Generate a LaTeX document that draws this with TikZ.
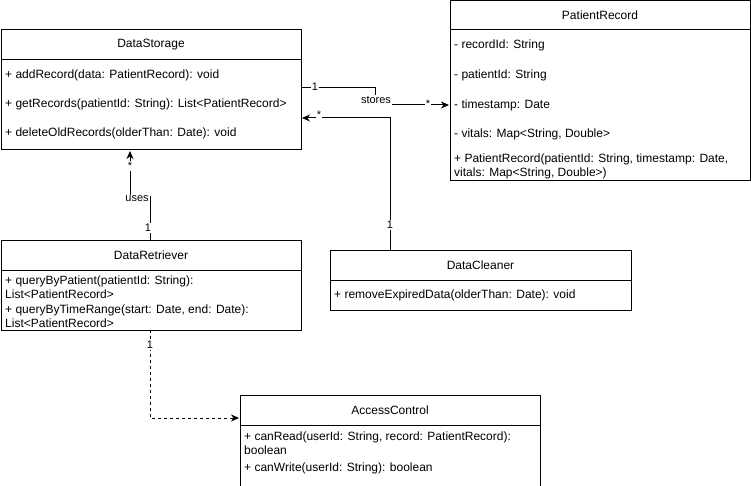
\documentclass[tikz,border=0pt]{standalone}
\usepackage{fontspec}
\setmainfont{Liberation Sans}
\usetikzlibrary{arrows.meta}
\begin{document}
\begin{tikzpicture}[x=1pt,y=-1pt,
  cls/.style={draw,line width=1pt,inner sep=0pt,outer sep=0pt,fill=white},
  sep/.style={line width=1pt},
  title/.style={inner sep=0pt,font=\fontsize{12}{14}\selectfont},
  member/.style={anchor=west,inner sep=0pt,align=left,font=\fontsize{12}{14}\selectfont},
  rel/.style={line width=1pt},
  tip/.style={-{Stealth[length=8pt,width=7pt,inset=2.5pt]}, shorten >=1pt},
  dep/.style={line width=1pt,dash pattern=on 3pt off 3pt},
  mult/.style={font=\fontsize{11}{13}\selectfont,fill=white,inner sep=1pt},
  lbl/.style={font=\fontsize{11}{13}\selectfont,fill=white,inner sep=1pt}]
\useasboundingbox (0,0) rectangle (751,486);
\clip (0,0) rectangle (751,486);

% ---- DataStorage ----
\node[cls,minimum width=300pt,minimum height=120pt] (ds) at (151,90) {};
\draw[sep] (1,60) -- (301,60);
\node[title] (dsT) at (151,45) {DataStorage};
\node[member] (ds1) at (5,75) {+ addRecord(data: PatientRecord): void};
\node[member] (ds2) at (5,104) {+ getRecords(patientId: String): List<PatientRecord>};
\node[member] (ds3) at (5,133) {+ deleteOldRecords(olderThan: Date): void};

% ---- PatientRecord ----
\node[cls,minimum width=300pt,minimum height=180pt] (pr) at (600,91) {};
\draw[sep] (450,30) -- (750,30);
\node[title] (prT) at (600,15) {PatientRecord};
\node[member] (pr1) at (454,45) {- recordId: String};
\node[member] (pr2) at (454,75) {- patientId: String};
\node[member] (pr3) at (454,105) {- timestamp: Date};
\node[member] (pr4) at (454,134) {- vitals: Map<String, Double>};
\node[member] (pr5) at (454,166.5) {+ PatientRecord(patientId: String, timestamp: Date,\\vitals: Map<String, Double>)};

% ---- DataRetriever ----
\node[cls,minimum width=300pt,minimum height=90pt] (dr) at (151,285) {};
\draw[sep] (1,270) -- (301,270);
\node[title] (drT) at (151,255) {DataRetriever};
\node[member] (dr1) at (5,287) {+ queryByPatient(patientId: String):\\List<PatientRecord>};
\node[member] (dr2) at (5,316) {+ queryByTimeRange(start: Date, end: Date):\\List<PatientRecord>};

% ---- DataCleaner ----
\node[cls,minimum width=301pt,minimum height=60pt] (dc) at (480.5,280) {};
\draw[sep] (330,280) -- (631,280);
\node[title] (dcT) at (480.5,265) {DataCleaner};
\node[member] (dc1) at (334,295) {+ removeExpiredData(olderThan: Date): void};

% ---- AccessControl ----
\node[cls,minimum width=300pt,minimum height=100pt] (ac) at (390,445) {};
\draw[sep] (240,425) -- (540,425);
\node[title] (acT) at (390,410) {AccessControl};
\node[member] (ac1) at (244,443) {+ canRead(userId: String, record: PatientRecord):\\boolean};
\node[member] (ac2) at (244,468) {+ canWrite(userId: String): boolean};

% ---- DataStorage stores PatientRecord ----
\coordinate (st1) at (375,88);
\coordinate (st2) at (375,105);
\draw[rel,tip] ([yshift=2pt]ds.east) -- (st1) -- (st2) -- ([yshift=-14pt]pr.west);
\node[mult] (stA) at (315,87) {1};
\node[lbl] (stL) at (376,100) {stores};
\node[mult] (stB) at (428,104) {*};

% ---- DataCleaner -> DataStorage ----
\draw[rel,tip] ([xshift=-90.5pt]dc.north) |- ([yshift=-28pt]ds.east);
\node[mult] (clA) at (390,225) {1};
\node[mult] (clB) at (319,115) {*};

% ---- DataRetriever uses DataStorage ----
\coordinate (us1) at (150,197);
\coordinate (us2) at (130,197);
\draw[rel,tip] ([xshift=-1pt]dr.north) -- (us1) -- (us2) -- ([xshift=-21pt]ds.south);
\node[mult] (usB) at (130,166) {*};
\node[lbl] (usL) at (137,199) {uses};
\node[mult] (usA) at (148,228) {1};

% ---- DataRetriever -> AccessControl (dependency) ----
\draw[dep,tip] ([xshift=-1pt]dr.south) |- ([yshift=27pt]ac.west);
\node[mult] (acA) at (150,345) {1};
\end{tikzpicture}
\end{document}
